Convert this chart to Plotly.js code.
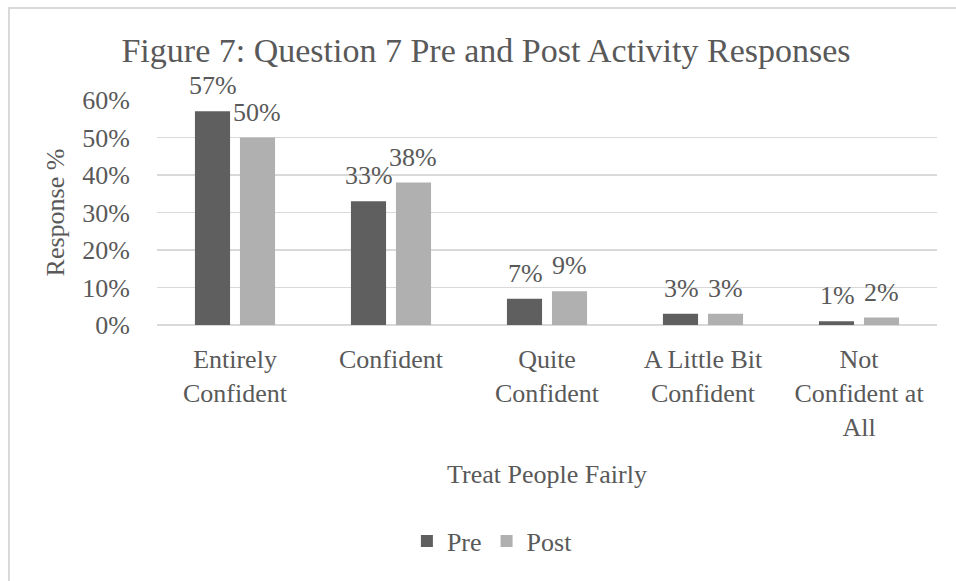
<!DOCTYPE html>
<html>
<head>
<meta charset="utf-8">
<script src="https://cdn.plot.ly/plotly-3.0.1.min.js"></script>
<style>
html,body{margin:0;padding:0;background:#fff;}
#wrap{position:relative;width:956px;height:581px;overflow:hidden;}
#frame{position:absolute;left:8px;top:7px;width:1000px;height:620px;border-left:2px solid #d9d9d9;border-top:2px solid #d9d9d9;}
#chart{position:absolute;left:0;top:0;width:956px;height:581px;}
</style>
</head>
<body>
<div id="wrap"><div id="frame"></div><div id="chart"></div></div>
<script>
const categories = ['Entirely<br>Confident', 'Confident', 'Quite<br>Confident', 'A Little Bit<br>Confident', 'Not<br>Confident at<br>All'];
const preValues = [0.57, 0.33, 0.07, 0.03, 0.01];
const postValues = [0.50, 0.38, 0.09, 0.03, 0.02];
const seriesNames = ['Pre', 'Post'];
const yTickValues = [0, 0.1, 0.2, 0.3, 0.4, 0.5, 0.6];

const FONT = 'Liberation Serif';
const TXT = '#595959';

const traces = [
  {type: 'bar', name: seriesNames[0], x: categories, y: preValues,
   marker: {color: '#5f5f5f'}, hoverinfo: 'none'},
  {type: 'bar', name: seriesNames[1], x: categories, y: postValues,
   marker: {color: '#b0b0b0'}, hoverinfo: 'none'}
];

const annotations = [];
[[preValues, -22], [postValues, 22]].forEach(([vals, dx]) => {
  vals.forEach((v, j) => {
    annotations.push({x: categories[j], y: v, xref: 'x', yref: 'y', text: Math.round(v * 100) + '%',
      showarrow: false, xanchor: 'center', yanchor: 'bottom', xshift: dx, yshift: 9,
      font: {family: FONT, size: 26, color: TXT}});
  });
});

const layout = {
  width: 956, height: 581,
  margin: {l: 157, r: 19, t: 100, b: 256},
  paper_bgcolor: 'rgba(0,0,0,0)', plot_bgcolor: 'rgba(0,0,0,0)',
  font: {family: FONT, size: 26, color: TXT},
  title: {text: 'Figure 7: Question 7 Pre and Post Activity Responses', font: {family: FONT, size: 34, color: TXT},
          x: 486 / 956, xanchor: 'center', xref: 'container', y: 1 - 50 / 581, yanchor: 'middle'},
  barmode: 'group', bargap: 0.423, bargroupgap: 0.22,
  xaxis: {type: 'category', tickfont: {family: FONT, size: 26, color: TXT}, showgrid: false, showline: false, ticks: '',
          ticklabelstandoff: 16,
          title: {text: 'Treat People Fairly', font: {family: FONT, size: 26, color: TXT}, standoff: 24}},
  yaxis: {range: [0, 0.6], tickvals: yTickValues, tickformat: '.0%', tickfont: {family: FONT, size: 26, color: TXT},
          showgrid: true, gridcolor: '#d9d9d9', gridwidth: 1.5, zeroline: true, zerolinecolor: '#d9d9d9', zerolinewidth: 1.5,
          showline: false, ticks: '', ticklen: 0, automargin: false, ticklabelstandoff: 26,
          title: {text: 'Response %', font: {family: FONT, size: 26, color: TXT}, standoff: 10}},
  annotations: annotations,
  legend: {orientation: 'h', x: 0.43, xanchor: 'center', y: -0.96, yanchor: 'middle',
           font: {family: FONT, size: 26, color: TXT}, itemwidth: 30},
  showlegend: true
};

Plotly.newPlot('chart', traces, layout, {displayModeBar: false, staticPlot: true});
</script>
</body>
</html>
